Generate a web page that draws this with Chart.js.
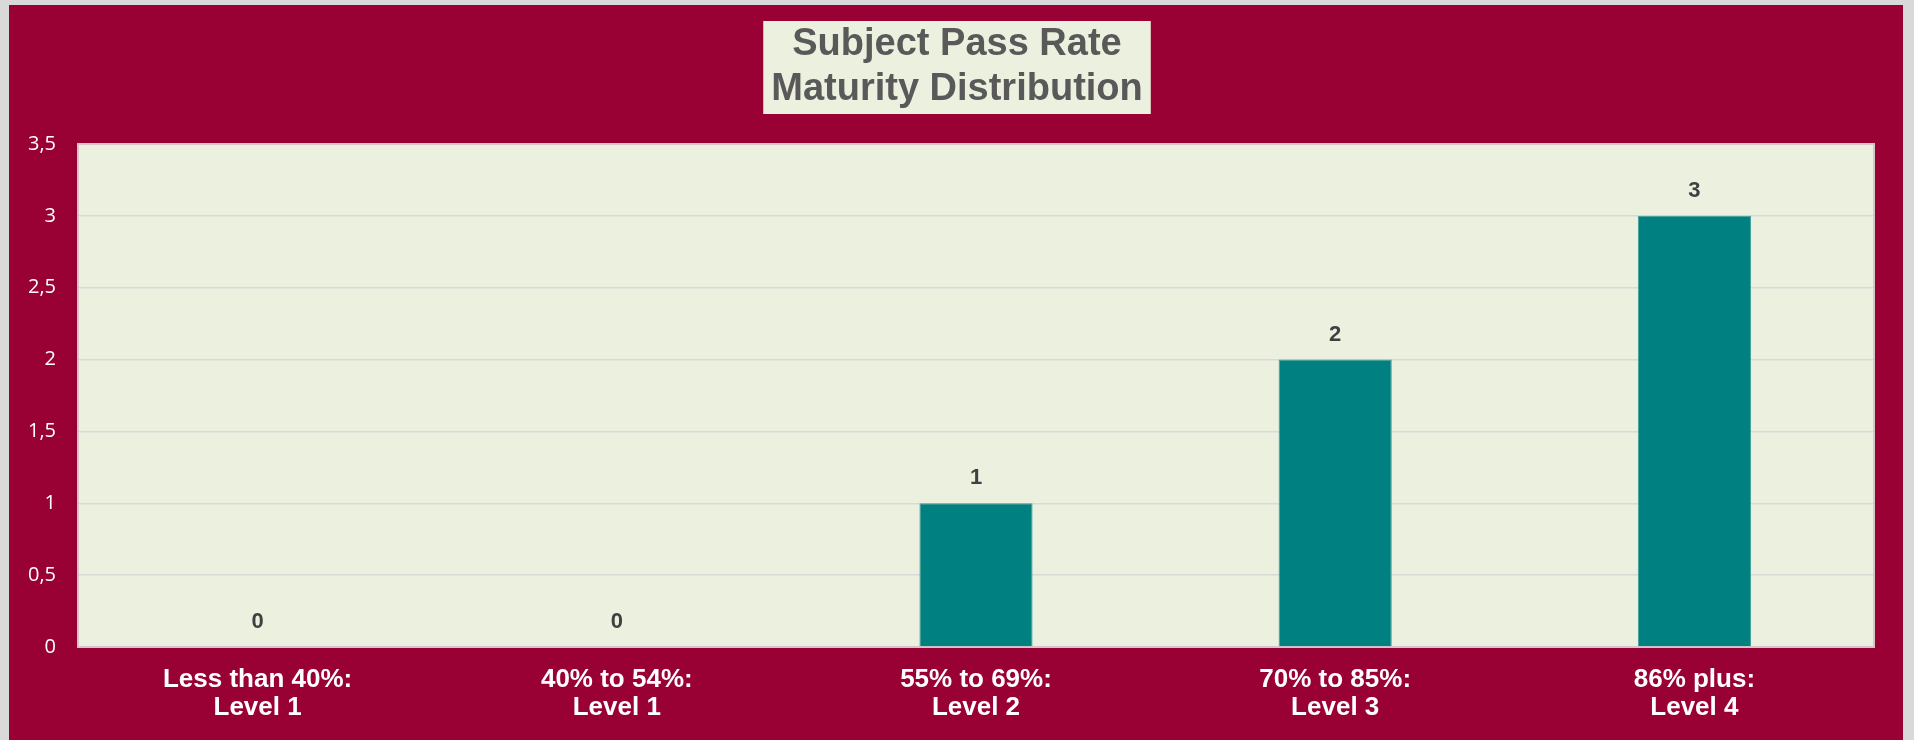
<!DOCTYPE html>
<html>
<head>
<meta charset="utf-8">
<title>Subject Pass Rate Maturity Distribution</title>
<script src="https://cdn.jsdelivr.net/npm/chart.js@4"></script>
<style>
    html, body { margin: 0; padding: 0; background: #d9d9d9; }
    #wrap { width: 1914px; height: 740px; position: relative; }
</style>
</head>
<body>
<div id="wrap"><canvas id="pass-rate-chart"></canvas></div>
<script>
// --- データ ---
const categories = [
    ["Less than 40%:", "Level 1"],
    ["40% to 54%:", "Level 1"],
    ["55% to 69%:", "Level 2"],
    ["70% to 85%:", "Level 3"],
    ["86% plus:", "Level 4"]
];
const subjectCounts = [0, 0, 1, 2, 3];
const titleLines = ["Subject Pass Rate", "Maturity Distribution"];
const yMin = 0;
const yMax = 3.5;
const yStep = 0.5;

// --- 色 ---
const CRIMSON = '#990033';
const PANEL = '#ebf1de';
const TEAL = '#008080';
const TITLE_FONT = { family: "'Liberation Sans', Arial, sans-serif", size: 38, weight: 'bold', lineHeight: 45 / 38 };

// 外枠・プロット背景・タイトルの箱
const backgroundPlugin = {
    id: 'panelBackground',
    beforeDraw(chart) {
        const { ctx, chartArea, width, height } = chart;
        ctx.save();
        ctx.fillStyle = '#d9d9d9';
        ctx.fillRect(0, 0, width, height);
        ctx.fillStyle = CRIMSON;
        ctx.fillRect(9, 5, width - 20, height - 5);

        ctx.fillStyle = PANEL;
        ctx.fillRect(chartArea.left, chartArea.top, chartArea.right - chartArea.left, chartArea.bottom - chartArea.top);

        // タイトル背景
        const tb = chart.titleBlock;
        ctx.font = `bold ${TITLE_FONT.size}px ${TITLE_FONT.family}`;
        const textW = Math.max(...titleLines.map(t => ctx.measureText(t).width));
        const lh = TITLE_FONT.size * TITLE_FONT.lineHeight;
        const cx = (tb.left + tb.right) / 2;
        const firstMid = tb.top + tb.options.padding.top + lh / 2;
        const lastMid = firstMid + lh * (titleLines.length - 1);
        ctx.fillRect(cx - textW / 2 - 8, firstMid - 24, textW + 16, lastMid - firstMid + 48);
        ctx.restore();
    },
    beforeDatasetsDraw(chart) {
        const { ctx, chartArea } = chart;
        ctx.save();
        ctx.strokeStyle = '#d6c6ca';
        ctx.lineWidth = 2;
        ctx.strokeRect(chartArea.left, chartArea.top, chartArea.right - chartArea.left, chartArea.bottom - chartArea.top);
        ctx.restore();
    }
};

// 棒の上に値を表示
const valueLabelPlugin = {
    id: 'valueLabels',
    afterDatasetsDraw(chart) {
        const { ctx } = chart;
        const meta = chart.getDatasetMeta(0);
        const values = chart.data.datasets[0].data;
        ctx.save();
        ctx.font = "bold 22px 'Liberation Sans', Arial, sans-serif";
        ctx.fillStyle = '#404040';
        ctx.textAlign = 'center';
        ctx.textBaseline = 'middle';
        meta.data.forEach((bar, i) => {
            ctx.fillText(String(values[i]), bar.x, bar.y - 25);
        });
        ctx.restore();
    }
};

const ctx = document.getElementById('pass-rate-chart').getContext('2d');
new Chart(ctx, {
    type: 'bar',
    data: {
        labels: categories,
        datasets: [{
            label: 'Subjects',
            data: subjectCounts,
            backgroundColor: TEAL,
            borderColor: '#3d9e9a',
            borderWidth: 1,
            categoryPercentage: 1,
            barPercentage: 0.315
        }]
    },
    options: {
        responsive: true,
        maintainAspectRatio: false,
        animation: false,
        layout: { padding: { left: 9, right: 9, top: 0, bottom: 0 } },
        plugins: {
            legend: { display: false },
            tooltip: { enabled: false },
            title: {
                display: true,
                text: titleLines,
                color: '#595959',
                font: TITLE_FONT,
                padding: { top: 22.5, bottom: 31.5 }
            }
        },
        scales: {
            x: {
                grid: { display: false, drawTicks: false },
                border: { display: false },
                ticks: {
                    color: '#ffffff',
                    font: { family: "'Liberation Sans', Arial, sans-serif", size: 26, weight: 'bold', lineHeight: 28 / 26 },
                    padding: 19,
                    maxRotation: 0,
                    autoSkip: false
                },
                afterFit(scale) { scale.height = 93; }
            },
            y: {
                min: yMin,
                max: yMax,
                grid: { color: '#d9d9d9', lineWidth: 1.5, drawTicks: false },
                border: { display: false },
                ticks: {
                    stepSize: yStep,
                    color: '#ffffff',
                    font: { family: "'Open Sans', sans-serif", size: 20 },
                    padding: 22,
                    callback: v => String(v).replace('.', ',')
                },
                afterFit(scale) { scale.width = 69; }
            },
            // 右側の余白用（表示なし）
            yRight: {
                position: 'right',
                grid: { display: false, drawTicks: false },
                border: { display: false },
                ticks: { display: false },
                afterFit(scale) { scale.width = 31; }
            }
        }
    },
    plugins: [backgroundPlugin, valueLabelPlugin]
});
</script>
</body>
</html>
